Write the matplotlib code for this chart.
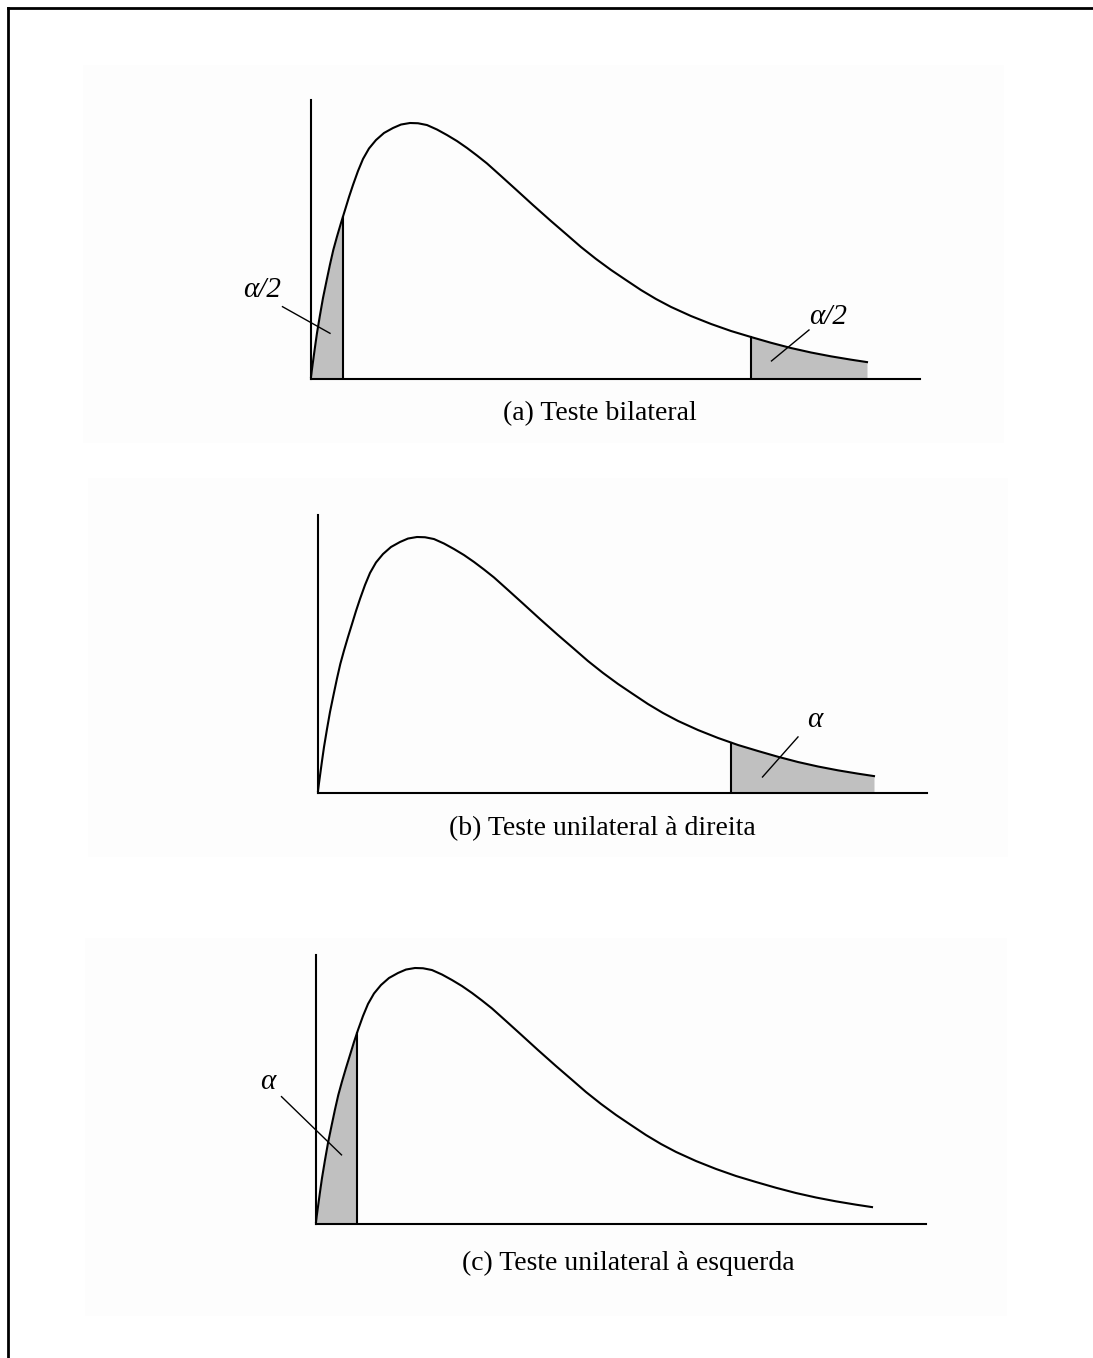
import numpy as np
import matplotlib
matplotlib.use("Agg")
import matplotlib.pyplot as plt
from matplotlib.patches import Rectangle
from matplotlib.lines import Line2D

# ---- data (curve, arbitrary units) ----
curve_x = [0.00, 0.02, 0.05, 0.08, 0.12, 0.18, 0.24, 0.314, 0.38, 0.446,
           0.52, 0.60, 0.68, 0.76, 0.84, 0.94, 1.04, 1.16, 1.30, 1.46,
           1.64, 1.80, 1.98, 2.14, 2.32, 2.52, 2.72, 2.92, 3.12, 3.32,
           3.52, 3.80, 4.10, 4.44, 4.80, 5.10, 5.40, 5.70, 6.00, 6.30,
           6.60, 6.90, 7.20, 7.60, 8.00, 8.40, 8.80, 9.20, 9.60, 10.00,
           10.40, 10.80, 11.12]
curve_y = [0.0016, 0.0078, 0.0164, 0.0250, 0.0359, 0.0500, 0.0633, 0.0773,
           0.0895, 0.1008, 0.1113, 0.1219, 0.1320, 0.1422, 0.1516, 0.1625,
           0.1719, 0.1801, 0.1867, 0.1922, 0.1961, 0.1988, 0.2000, 0.1998,
           0.1984, 0.1949, 0.1906, 0.1859, 0.1805, 0.1746, 0.1684, 0.1586,
           0.1480, 0.1359, 0.1234, 0.1133, 0.1031, 0.0938, 0.0852, 0.0773,
           0.0695, 0.0625, 0.0563, 0.0492, 0.0430, 0.0375, 0.0328, 0.0283,
           0.0242, 0.0207, 0.0177, 0.0151, 0.0132]

captions = ["(a) Teste bilateral",
            "(b) Teste unilateral à direita",
            "(c) Teste unilateral à esquerda"]
# shaded tails per panel: (start, end)
tails = [[(0.0, 0.64), (8.80, 11.12)],
         [(8.26, 11.12)],
         [(0.0, 0.82)]]
tail_labels = [["α/2", "α/2"], ["α"], ["α"]]

# ---- layout (pixels) ----
W, H = 1093, 1358
fig = plt.figure(figsize=(W / 100, H / 100), dpi=100)
fig.patch.set_facecolor("white")

def fx(px):
    return px / W

def fy(py):
    return 1 - py / H

# outer frame (top and left edges)
fig.add_artist(Line2D([fx(8), fx(W)], [fy(8), fy(8)], color="black", lw=2.0,
                      transform=fig.transFigure))
fig.add_artist(Line2D([fx(8), fx(8)], [fy(8), fy(H)], color="black", lw=2.0,
                      transform=fig.transFigure))

# faint panel backgrounds
panel_bg = [(83, 65, 1004, 443), (88, 478, 1008, 857), (85, 938, 1007, 1316)]
for (x0, y0, x1, y1) in panel_bg:
    fig.add_artist(Rectangle((fx(x0), fy(y1)), fx(x1) - fx(x0), fy(y0) - fy(y1),
                             transform=fig.transFigure, facecolor="#fdfdfd",
                             edgecolor="none", zorder=0))

# axes placement: (left px, baseline px, right px, top px)
axes_px = [(311, 379, 920, 100), (318, 793, 927, 515), (316, 1224, 926, 955)]
caption_px = [(600, 414), (602, 829), (628, 1263)]

# label positions in data units: (text_x, text_y, line_x0, line_y0, line_x1, line_y1)
label_pos = [[(-0.98, 0.0695, -0.57, 0.0565, 0.38, 0.0357),
              (10.34, 0.0484, 9.96, 0.0383, 9.21, 0.0141)],
             [(9.94, 0.057, 9.60, 0.0438, 8.89, 0.0125)],
             [(-0.96, 0.111, -0.69, 0.0995, 0.51, 0.054)]]

cx = np.array(curve_x)
cy = np.array(curve_y)
serif = ["Liberation Serif", "DejaVu Serif"]

for i, (l, b, r, t) in enumerate(axes_px):
    ax = fig.add_axes([fx(l), fy(b), fx(r) - fx(l), fy(t) - fy(b)])
    ax.set_facecolor("none")
    xmax = (r - l) / 50.0
    ymax = (b - t) / 1280.0
    ax.set_xlim(0, xmax)
    ax.set_ylim(0, ymax)
    for s in ["top", "right"]:
        ax.spines[s].set_visible(False)
    for s in ["left", "bottom"]:
        ax.spines[s].set_linewidth(1.5)
        ax.spines[s].set_color("black")
    ax.set_xticks([])
    ax.set_yticks([])

    ax.plot(cx, cy, color="black", lw=1.5, zorder=3, clip_on=False,
            solid_joinstyle="round")

    for (a0, a1) in tails[i]:
        xs = np.linspace(a0, min(a1, cx[-1]), 200)
        ys = np.interp(xs, cx, cy)
        ax.fill_between(xs, 0, ys, color="#c0c0c0", lw=0, zorder=2)
        # vertical cut line (inner edge of the tail)
        cut = a1 if a0 == 0.0 else a0
        ax.plot([cut, cut], [0, np.interp(cut, cx, cy)], color="black",
                lw=1.5, zorder=3)

    for lab, (tx, ty, x0, y0, x1, y1) in zip(tail_labels[i], label_pos[i]):
        ax.text(tx, ty, lab, ha="center", va="center", fontsize=21,
                family=serif, style="italic", clip_on=False, zorder=4)
        ax.plot([x0, x1], [y0, y1], color="black", lw=1.0, zorder=4,
                clip_on=False)

    cxp, cyp = caption_px[i]
    fig.text(fx(cxp), fy(cyp), captions[i], ha="center", va="center",
             fontsize=20, family=serif)

fig.savefig("out.png", dpi=100, facecolor="white")
